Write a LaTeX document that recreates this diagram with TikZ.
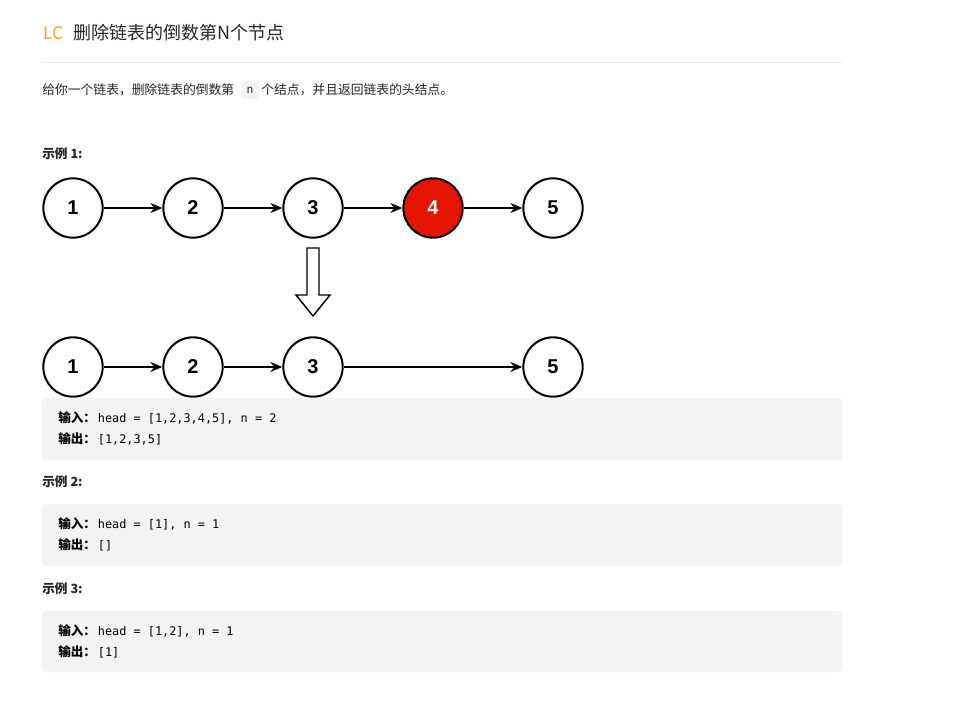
\documentclass[tikz,border=0pt]{standalone}
\usepackage{fontspec}
\setmainfont{Noto Sans CJK SC}
\setmonofont{DejaVu Sans Mono}
\newfontfamily\digitfont{Liberation Sans}
\usetikzlibrary{arrows.meta}
\definecolor{txt}{HTML}{262626}
\definecolor{lcorange}{HTML}{FFA116}
\definecolor{rule}{HTML}{E8E8E8}
\definecolor{codebg}{HTML}{F2F3F5}
\definecolor{delred}{HTML}{E51400}
\tikzset{
  listnode/.style={circle, draw=black, line width=1.5pt, fill=white,
    minimum size=44.5pt, inner sep=0pt, font=\digitfont\bfseries\fontsize{15}{15}\selectfont},
  removed/.style={listnode, fill=delred, text=white},
  link/.style={line width=1.3pt, -{Stealth[length=9pt,width=7.5pt,inset=3pt]}},
  heading/.style={anchor=west, inner sep=0pt, text=txt, font=\bfseries\fontsize{9.5}{11}\selectfont},
  body/.style={anchor=west, inner sep=0pt, text=txt, font=\fontsize{9.6}{11}\selectfont},
  codeline/.style={anchor=west, inner sep=0pt, text=black, font=\fontsize{9.4}{11}\selectfont},
  codebox/.style={fill=codebg, rounded corners=3pt, draw=none},
}
\newcommand{\io}[2]{\textbf{#1：}\hspace{1.5pt}{\ttfamily\fontsize{8.9}{11}\selectfont #2}}
\begin{document}
\begin{tikzpicture}[x=0.75pt, y=-0.75pt]
  % canvas
  \fill[white] (0,0) rectangle (954,709);
  \useasboundingbox (0,0) rectangle (954,709);

  % title
  \node[anchor=west, inner sep=0pt, text=lcorange, font=\fontsize{13}{15}\selectfont] (lc) at (43,33) {LC};
  \node[anchor=west, inner sep=0pt, text=txt, font=\fontsize{13.5}{15}\selectfont] (title) at (73,33) {删除链表的倒数第N个节点};
  \draw[rule, line width=0.75pt] (42,63) -- (842,63);

  % description
  \node[body] (d1) at (42,90) {给你一个链表，删除链表的倒数第};
  \node[codebox, minimum width=13.5pt, minimum height=13.5pt, inner sep=0pt,
        font=\ttfamily\fontsize{8.5}{10}\selectfont, text=txt] (nvar) at (250,90) {n};
  \node[body] (d2) at (261,90) {个结点，并且返回链表的头结点。};

  % example 1
  \node[heading] (h1) at (42,154) {示例 1:};

  \node[listnode] (a1) at (73,208) {1};
  \node[listnode] (a2) at (193,208) {2};
  \node[listnode] (a3) at (313,208) {3};
  \node[removed]  (a4) at (433,208) {4};
  \node[listnode] (a5) at (553,208) {5};
  \draw[link] (a1) -- (a2);
  \draw[link] (a2) -- (a3);
  \draw[link] (a3) -- (a4);
  \draw[link] (a4) -- (a5);

  % hollow arrow between the two lists
  \draw[line width=1.1pt, fill=white, line join=miter]
    (307,248) -- (319,248) -- (319,295) -- (330,295) -- (313,316)
    -- (296,295) -- (307,295) -- cycle;

  \node[listnode] (b1) at (73,367) {1};
  \node[listnode] (b2) at (193,367) {2};
  \node[listnode] (b3) at (313,367) {3};
  \node[listnode] (b5) at (553,367) {5};
  \draw[link] (b1) -- (b2);
  \draw[link] (b2) -- (b3);
  \draw[link] (b3) -- (b5);

  \fill[codebox] (42,398) rectangle (842,460);
  \node[codeline] (in1) at (58,418) {\io{输入}{head = [1,2,3,4,5], n = 2}};
  \node[codeline] (out1) at (58,439) {\io{输出}{[1,2,3,5]}};

  % example 2
  \node[heading] (h2) at (42,482) {示例 2:};
  \fill[codebox] (42,504) rectangle (842,566);
  \node[codeline] (in2) at (58,524) {\io{输入}{head = [1], n = 1}};
  \node[codeline] (out2) at (58,545) {\io{输出}{[]}};

  % example 3
  \node[heading] (h3) at (42,589) {示例 3:};
  \fill[codebox] (42,611) rectangle (842,672);
  \node[codeline] (in3) at (58,631) {\io{输入}{head = [1,2], n = 1}};
  \node[codeline] (out3) at (58,652) {\io{输出}{[1]}};
\end{tikzpicture}
\end{document}
